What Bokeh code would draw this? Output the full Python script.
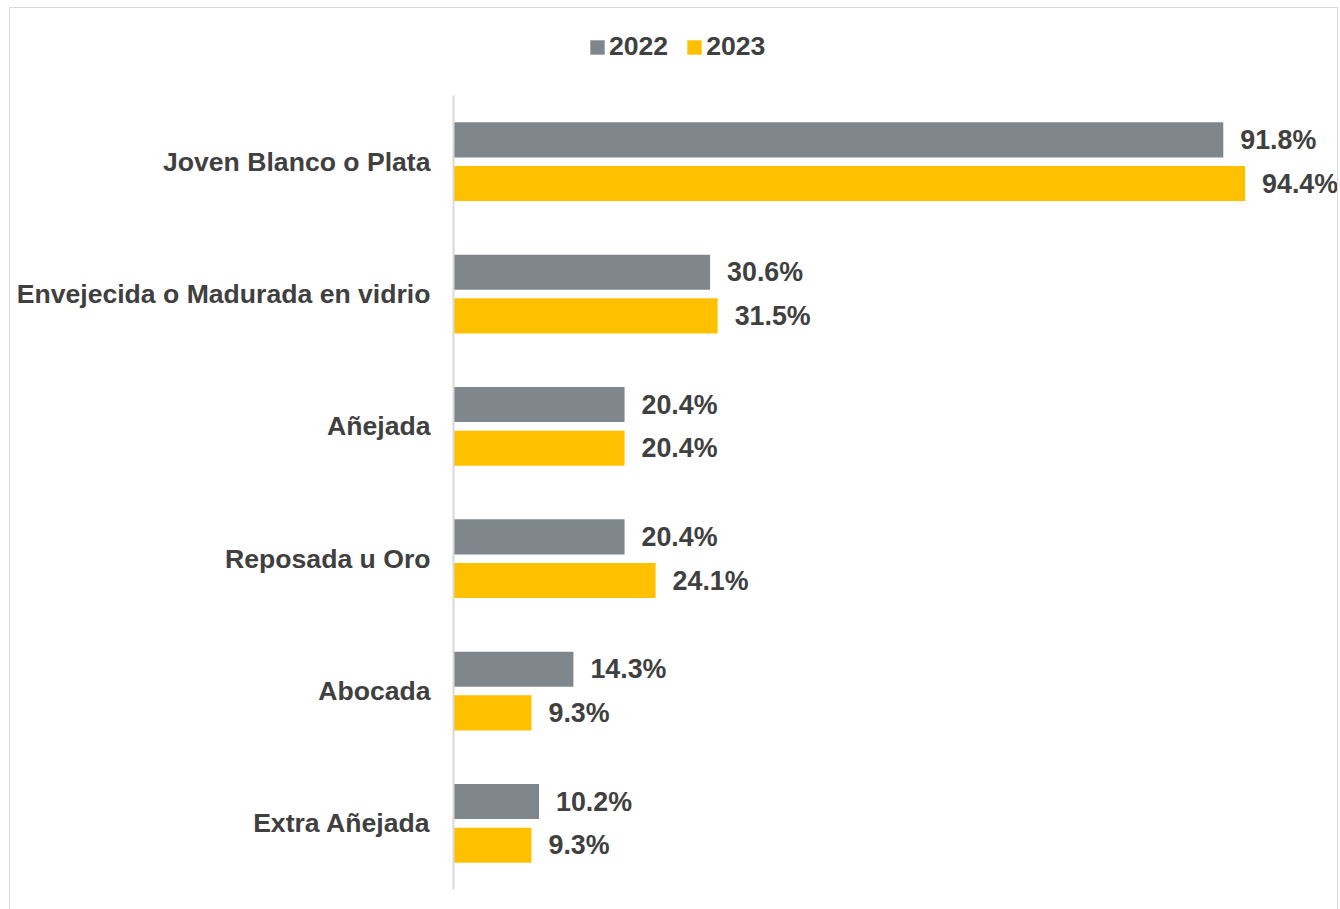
from bokeh.plotting import figure
from bokeh.models import ColumnDataSource, Range1d, Legend, LegendItem, FixedTicker
from bokeh.core.properties import value
from bokeh.embed import file_html
from bokeh.resources import INLINE

categories = ["Joven Blanco o Plata", "Envejecida o Madurada en vidrio", "Añejada",
              "Reposada u Oro", "Abocada", "Extra Añejada"]
values_2022 = [91.8, 30.6, 20.4, 20.4, 14.3, 10.2]
values_2023 = [94.4, 31.5, 20.4, 24.1, 9.3, 9.3]
series = ["2022", "2023"]

FONT = "Liberation Sans"
TXT = "#404040"
GREY = "#7F878D"
YELLOW = "#FFC000"
FS = "26.6px"
FS_VAL = "26.8px"

n = len(categories)
pos = [n - 0.5 - i for i in range(n)]          # category centres, first on top
DOD = 0.165
src = ColumnDataSource(dict(
    y22=[c + DOD for c in pos],
    y23=[c - DOD for c in pos],
    v22=values_2022,
    v23=values_2023,
    l22=[f"{v:.1f}%" for v in values_2022],
    l23=[f"{v:.1f}%" for v in values_2023],
))

p = figure(width=1329, height=904, output_backend="svg", toolbar_location=None,
           y_range=Range1d(0, 6.658), x_range=Range1d(0, 105.66),
           min_border_left=443, min_border_right=0, min_border_top=0, min_border_bottom=23)
p.margin = (7, 0, 0, 9)
p.styles = {"border": "1px solid #D9D9D9"}
p.outline_line_color = None
p.grid.visible = False
p.xaxis.visible = False

ax = p.yaxis[0]
ax.ticker = FixedTicker(ticks=pos)
ax.major_label_overrides = {c: name for c, name in zip(pos, categories)}
ax.bounds = (0, n)
ax.axis_line_color = "#D9D9D9"
ax.axis_line_width = 2
ax.major_tick_line_color = None
ax.minor_tick_line_color = None
ax.major_label_standoff = 17
ax.major_label_text_font = FONT
ax.major_label_text_font_style = "bold"
ax.major_label_text_font_size = FS
ax.major_label_text_color = TXT

r22 = p.hbar(y="y22", right="v22", left=0, height=0.265,
             source=src, fill_color=GREY, line_color=None)
r23 = p.hbar(y="y23", right="v23", left=0, height=0.265,
             source=src, fill_color=YELLOW, line_color=None)

for col, lab, yy in (("v22", "l22", "y22"), ("v23", "l23", "y23")):
    p.text(x=col, y=yy, text=lab, source=src,
           x_offset=17, text_align="left", text_baseline="middle",
           text_font=value(FONT), text_font_style="bold", text_font_size=FS_VAL,
           text_color=TXT)

legend = Legend(items=[LegendItem(label=series[0], renderers=[r22]),
                       LegendItem(label=series[1], renderers=[r23])],
                orientation="horizontal", location=(135, 827))
legend.glyph_width = 18
legend.glyph_height = 18
legend.label_standoff = 3
legend.spacing = 17
legend.padding = 0
legend.margin = 0
legend.border_line_color = None
legend.background_fill_alpha = 0
legend.label_text_font = FONT
legend.label_text_font_style = "bold"
legend.label_text_font_size = FS
legend.label_text_color = TXT
p.add_layout(legend)

open("out.html", "w").write(file_html(p, INLINE))
